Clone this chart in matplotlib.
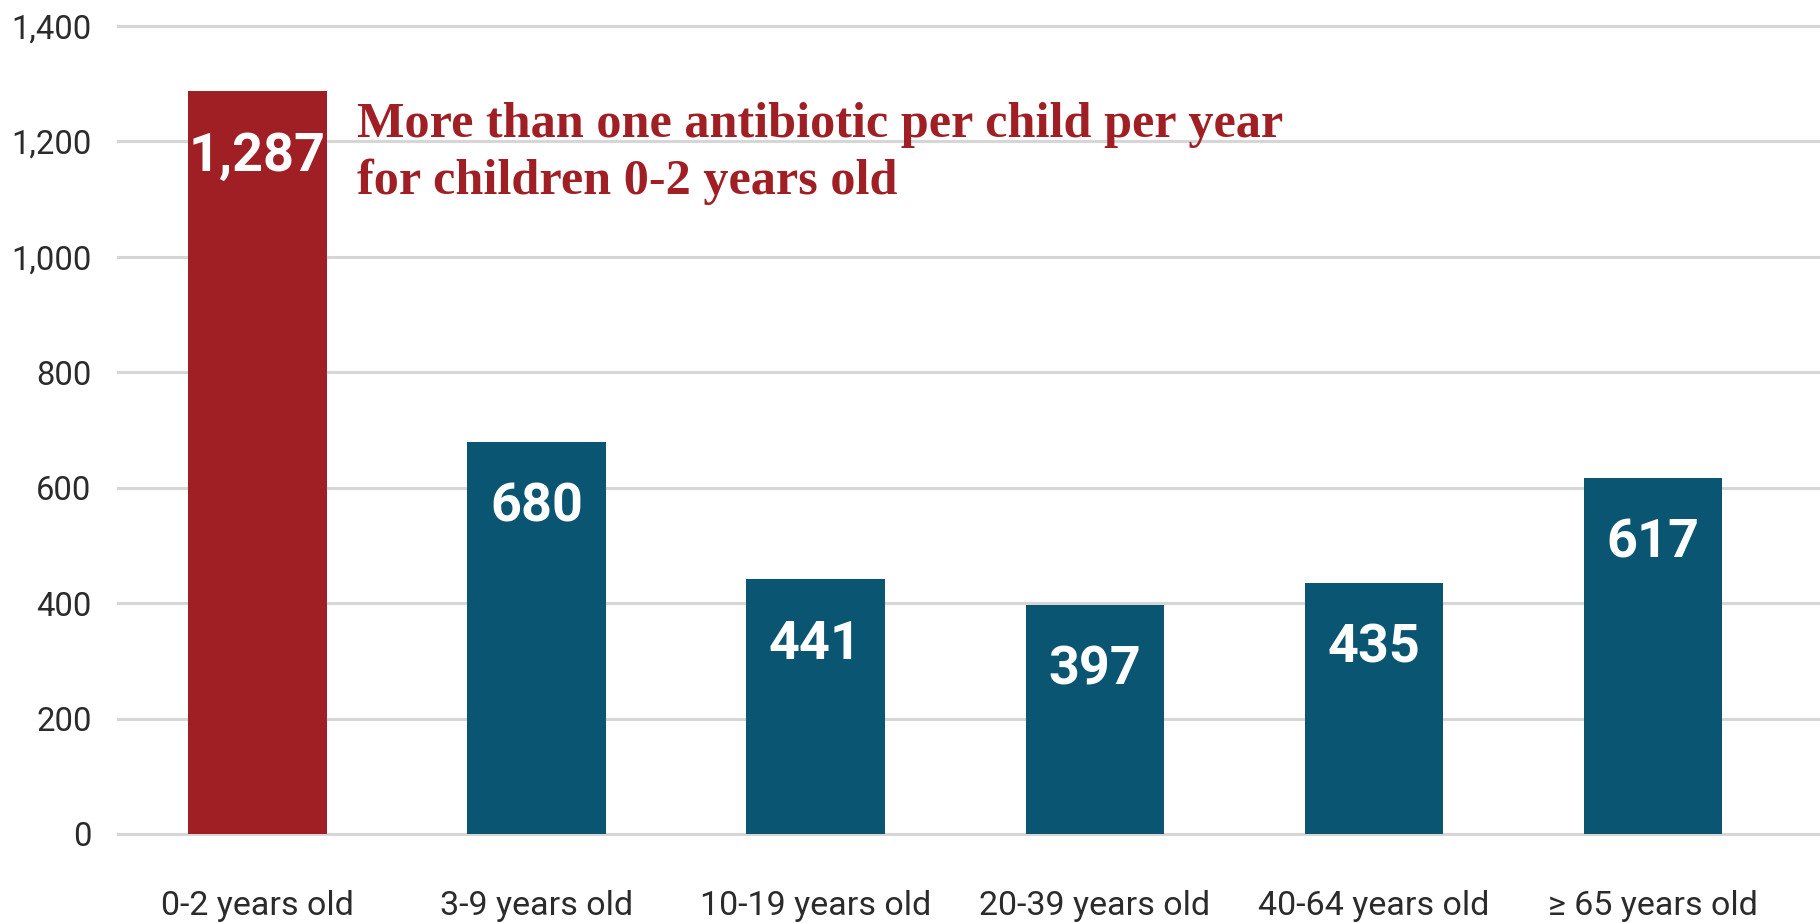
import matplotlib
matplotlib.use("Agg")
import matplotlib.pyplot as plt
from matplotlib import font_manager as fm
from matplotlib.patches import Rectangle
from matplotlib.ticker import FuncFormatter

categories = ["0-2 years old", "3-9 years old", "10-19 years old",
              "20-39 years old", "40-64 years old", "\u2265 65 years old"]
values = [1287, 680, 441, 397, 435, 617]
value_labels = ["1,287", "680", "441", "397", "435", "617"]
yticks = [0, 200, 400, 600, 800, 1000, 1200, 1400]
annotation = "More than one antibiotic per child per year\nfor children 0-2 years old"

RED = "#a01f24"
TEAL = "#0a5571"
GRID = "#d6d6d6"
TXT = "#2b2b2b"


def pick(cands, weight="normal"):
    for c in cands:
        try:
            fm.findfont(fm.FontProperties(family=c, weight=weight),
                        fallback_to_default=False)
            return c
        except Exception:
            continue
    return "DejaVu Sans"


sans = pick(["Roboto", "Lato", "Liberation Sans"])
sans_bold = pick(["Roboto", "Lato", "Liberation Sans"], weight="bold")
serif = pick(["Liberation Serif", "DejaVu Serif"], weight="bold")

W, H = 1820, 923
fig = plt.figure(figsize=(W / 100, H / 100), dpi=100)
ax = fig.add_axes([118 / W, (H - 834) / H, 1 - 118 / W, (834 - 26) / H])
renderer = fig.canvas.get_renderer()


def fit_size(text, family, weight, target_px, base=30):
    t = fig.text(0, 0, text, family=family, fontweight=weight, fontsize=base)
    w = t.get_window_extent(renderer).width
    t.remove()
    return base * target_px / w


x = list(range(len(categories)))
colors = [RED] + [TEAL] * (len(categories) - 1)
bar_w = 0.495
ax.bar(x, values, width=bar_w, color=colors, zorder=3)

ax.set_xlim(-0.5, 5.6)
ax.set_ylim(0, 1400)
ax.set_yticks(yticks)
ax.yaxis.set_major_formatter(FuncFormatter(lambda v, p: f"{int(v):,}"))
ax.set_xticks(x)
ax.set_xticklabels(categories)
for s in ax.spines.values():
    s.set_visible(False)
ax.grid(axis="y", color=GRID, linewidth=2.2, zorder=0)
for gl in ax.get_ygridlines():
    gl.set_clip_on(False)

tick_size = fit_size("0-2 years old", sans, "normal", 172) * 1.12
ytick_size = fit_size("1,400", sans, "normal", 80)
ax.tick_params(axis="both", length=0, labelcolor=TXT)
ax.tick_params(axis="x", labelsize=tick_size, pad=40)
ax.tick_params(axis="y", labelsize=ytick_size, pad=19)
for lab in ax.get_xticklabels() + ax.get_yticklabels():
    lab.set_family(sans)

val_size = fit_size("680", sans_bold, "bold", 93)
for xi, v, lab in zip(x, values, value_labels):
    ax.annotate(lab, (xi, v), xytext=(0, -47), textcoords="offset points",
                ha="center", va="center", color="white", fontsize=val_size,
                fontweight="bold", family=sans_bold, zorder=4)

# white mask behind the annotation (hides the 1,200 gridline there)
x_left = x[0] + bar_w / 2
ax.add_patch(Rectangle((x_left, 1140), 3.85 - x_left, 170, transform=ax.transData,
                       facecolor="white", edgecolor="none", zorder=1))

ann_size = fit_size("More than one antibiotic per child per year", serif, "bold", 925)
ann = ax.text(0.358, 1268, annotation, ha="left", va="top", color=RED,
              fontsize=ann_size, fontweight="bold", family=serif,
              linespacing=1.3, zorder=5)

fig.savefig("out.png", dpi=100, facecolor="white")
